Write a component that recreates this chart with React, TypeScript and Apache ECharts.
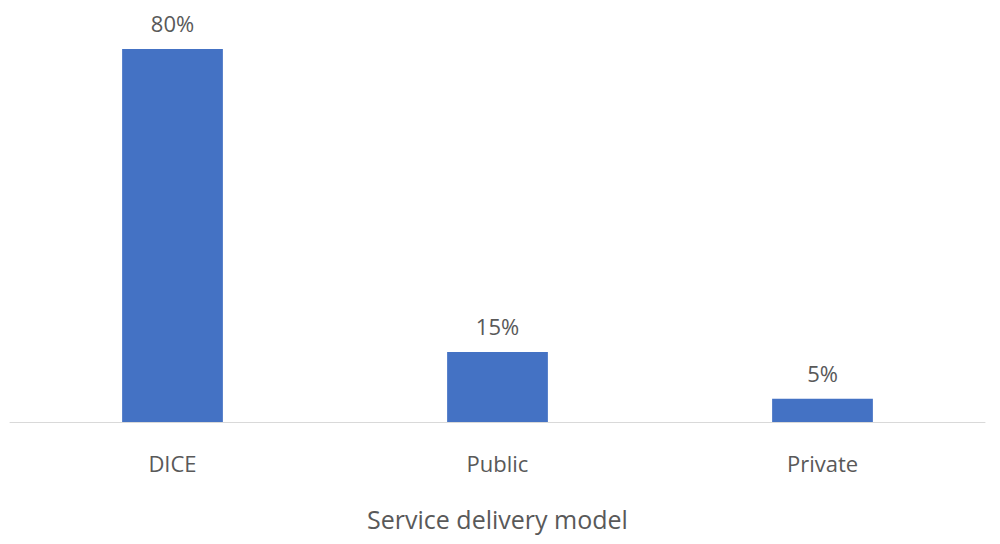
import React, { useEffect, useRef } from "react";
import * as echarts from "echarts";

const categories = ["DICE", "Public", "Private"];
const values = [80, 15, 5];
const axisTitle = "Service delivery model";

export default function App() {
  const ref = useRef<HTMLDivElement>(null);
  useEffect(() => {
    if (!ref.current) return;
    const chart = echarts.init(ref.current, null, { renderer: "svg" });
    chart.setOption({
      animation: false,
      textStyle: { fontFamily: "Open Sans, Noto Sans, sans-serif" },
      grid: { left: 2, right: 15, top: 41, bottom: 112, containLabel: false },
      xAxis: {
        type: "category",
        data: categories,
        axisLine: { lineStyle: { color: "#D9D9D9", width: 1 } },
        axisTick: { show: false },
        axisLabel: { color: "#595959", fontSize: 22, margin: 30 },
        name: axisTitle,
        nameLocation: "middle",
        nameGap: 84,
        nameTextStyle: { color: "#595959", fontSize: 25 },
      },
      yAxis: {
        type: "value",
        min: 0,
        max: 80,
        show: false,
        splitLine: { show: false },
      },
      series: [
        {
          type: "bar",
          data: values,
          barWidth: "31%",
          itemStyle: { color: "#4472C4" },
          label: {
            show: true,
            position: "top",
            distance: 15,
            formatter: "{c}%",
            color: "#595959",
            fontSize: 22,
          },
        },
      ],
    });
    return () => chart.dispose();
  }, []);
  return <div ref={ref} style={{ width: 992, height: 528 }} />;
}
